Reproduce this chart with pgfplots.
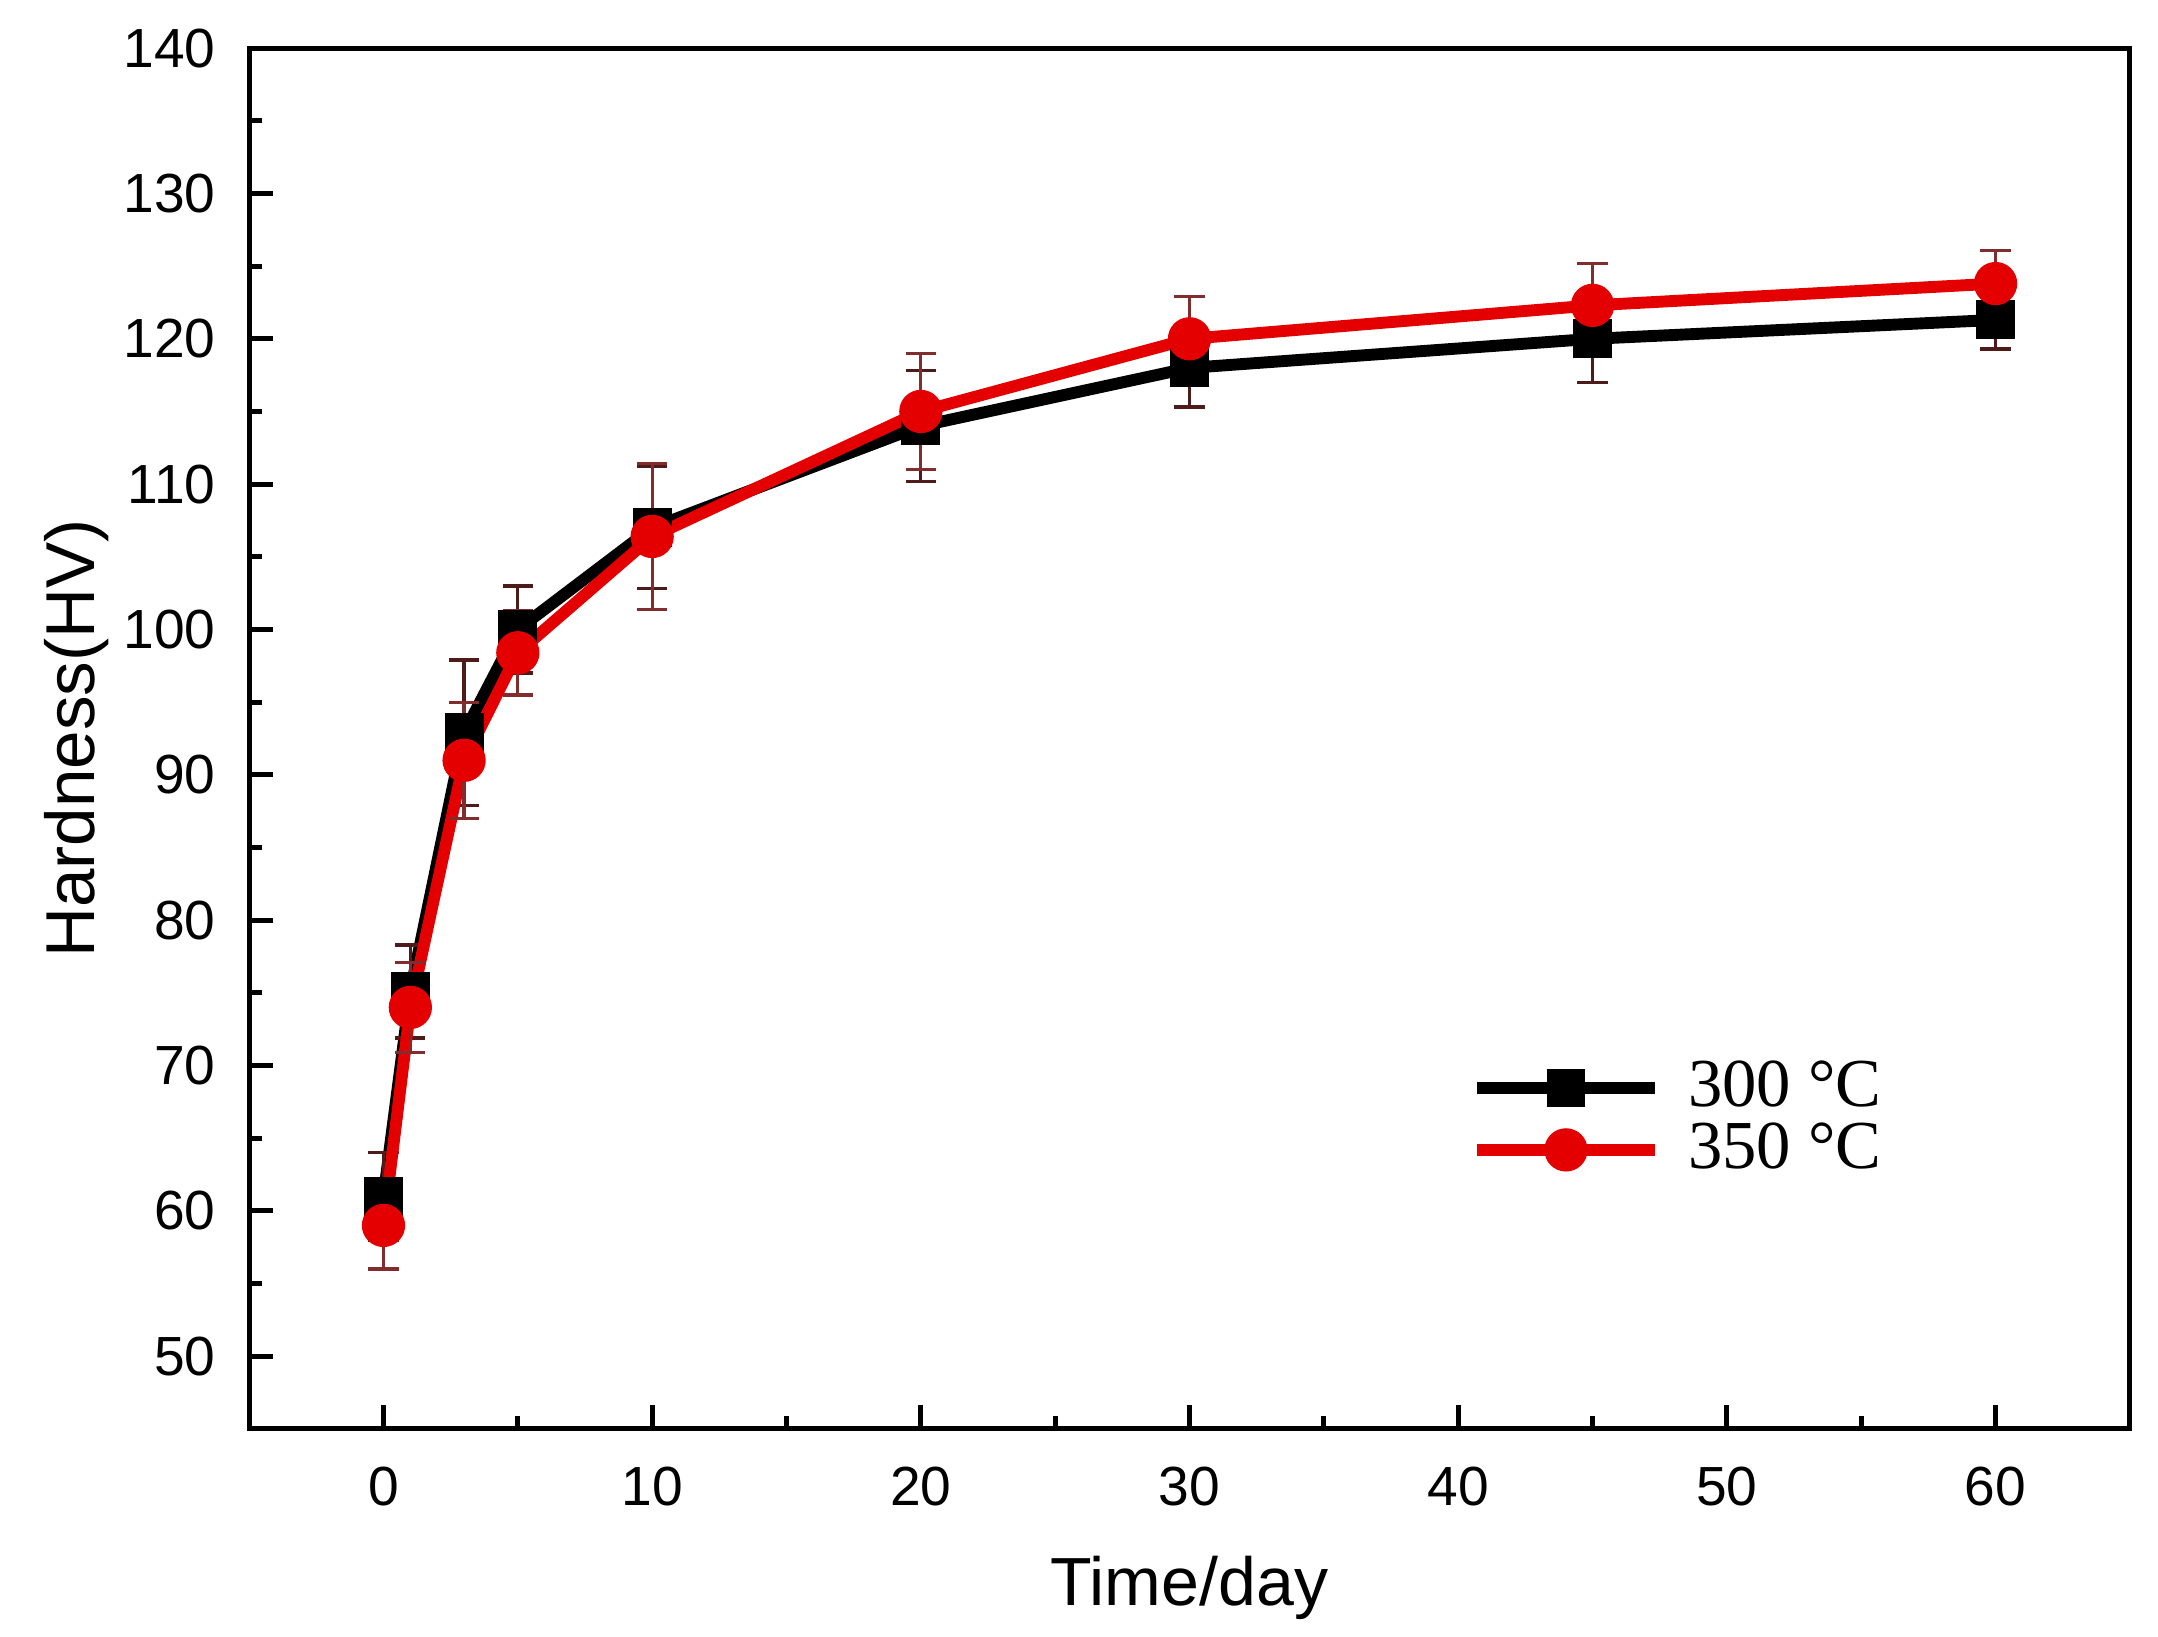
\documentclass[border=0pt]{standalone}
\usepackage{fontspec}
\setmainfont{Liberation Sans}
\newfontfamily\legfont{Liberation Serif}
\usepackage{pgfplots}
\pgfplotsset{compat=1.18}
\definecolor{myred}{RGB}{228,0,0}
\definecolor{errc}{RGB}{130,45,45}
\begin{document}
\begin{tikzpicture}
\begin{axis}[
  scale only axis,
  width=348pt, height=255.5pt,
  xmin=-5, xmax=65, ymin=45, ymax=140,
  xtick={0,10,...,60}, ytick={50,60,...,140},
  minor x tick num=1, minor y tick num=1,
  xtick pos=bottom, ytick pos=left,
  tick align=inside,
  major tick length=4.5pt, minor tick length=2.3pt,
  every tick/.style={black, line width=0.9pt},
  axis line style={line width=0.9pt},
  /pgf/number format/assume math mode=true,
  tick label style={font=\fontsize{10.2}{12}\selectfont},
  xticklabel style={yshift=-3.5pt},
  yticklabel style={xshift=-2.7pt},
  xlabel={Time/day}, ylabel={Hardness(HV)},
  every axis x label/.style={at={(axis description cs:0.5,-0.115)}, anchor=center, font=\fontsize{12.6}{15}\selectfont},
  every axis y label/.style={at={(axis description cs:-0.092,0.5)}, rotate=90, anchor=center, font=\fontsize{12.8}{15}\selectfont},
  clip=false,
  legend cell align=left,
  legend style={draw=none, fill=none, at={(rel axis cs:0.649,0.273)}, anchor=north west,
    font=\legfont\fontsize{12.7}{12.7}\selectfont, row sep=-1.5pt, inner sep=0pt,
    nodes={inner sep=1.5pt},
    /tikz/every odd column/.style={column sep=3.5pt}},
  legend image code/.code={
    \draw[mark repeat=2, mark phase=2, #1] plot coordinates {(0pt,0pt) (16.5pt,0pt) (33pt,0pt)};
  },
]
\addplot[black, line width=2.2pt, mark=square*, mark size=2.5pt, mark options={solid},
  error bars/.cd, y dir=both, y explicit,
  error bar style={color=errc!60!black, line width=0.6pt},
  error mark options={rotate=90, mark size=2.8pt, line width=0.6pt, color=errc!60!black}]
  table[x=x, y=y, y error=e] {
x y e
0 61.0 3.0
1 75.1 3.2
3 92.9 5.0
5 100.0 3.0
10 107.0 4.2
20 114.0 3.8
30 118.0 2.7
45 120.0 3.0
60 121.3 2.0
};
\addlegendentry{300 °C}
\addplot[myred, line width=2.2pt, mark=*, mark size=2.9pt, mark options={solid},
  error bars/.cd, y dir=both, y explicit,
  error bar style={color=errc, line width=0.6pt},
  error mark options={rotate=90, mark size=2.8pt, line width=0.6pt, color=errc}]
  table[x=x, y=y, y error=e] {
x y e
0 59.0 3.0
1 74.0 3.1
3 91.0 4.0
5 98.4 2.9
10 106.4 5.0
20 115.0 4.0
30 120.0 2.9
45 122.3 2.9
60 123.8 2.3
};
\addlegendentry{350 °C}
\coordinate (ll) at (rel axis cs:0,0);
\coordinate (ur) at (rel axis cs:1,1);
\end{axis}
\pgfresetboundingbox
\useasboundingbox ([shift={(-46.1pt,-38.5pt)}]ll) rectangle ([shift={(5.2pt,8.9pt)}]ur);
\end{tikzpicture}
\end{document}
